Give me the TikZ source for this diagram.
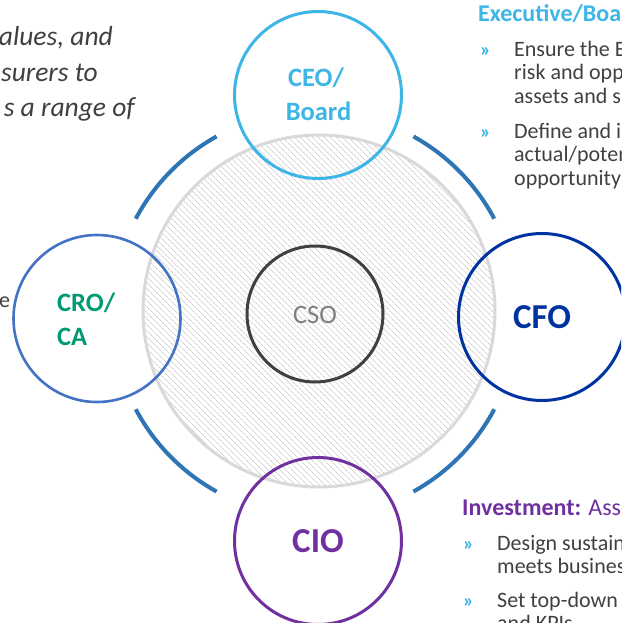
\documentclass[tikz,border=0pt]{standalone}
\usepackage{fontspec}
\setmainfont{Carlito}
\usetikzlibrary{patterns.meta}
\definecolor{ceoc}{HTML}{3DB5E6}
\definecolor{cfoc}{HTML}{0033A0}
\definecolor{croc}{HTML}{4472C4}
\definecolor{crotext}{HTML}{009A74}
\definecolor{cioc}{HTML}{7030A0}
\definecolor{arcc}{HTML}{2E75B6}
\definecolor{csoline}{HTML}{404040}
\definecolor{csotext}{HTML}{7F7F7F}
\definecolor{hatchedge}{HTML}{D9D9D9}
\definecolor{hatchc}{HTML}{CFCFCF}
\definecolor{bodyc}{HTML}{404040}
\begin{document}
\begin{tikzpicture}[x=1pt,y=-1pt,
  role/.style={circle, draw, line width=3pt, minimum size=167pt, inner sep=0pt},
  bigc/.style={circle, minimum size=352pt, inner sep=0pt, draw=hatchedge, line width=3pt,
    pattern={Lines[angle=-45,distance=4pt,line width=0.8pt]}, pattern color=hatchc},
  arcline/.style={draw=arcc, line width=4pt},
  lab/.style={anchor=base, inner sep=0pt, font=\bfseries\fontsize{26.5}{30}\selectfont},
  biglab/.style={anchor=base, inner sep=0pt, font=\bfseries\fontsize{35}{40}\selectfont},
  body/.style={anchor=base west, inner sep=0pt, text=bodyc, font=\fontsize{22}{26}\selectfont},
  bul/.style={anchor=base west, inner sep=0pt, text=ceoc, font=\bfseries\fontsize{20}{24}\selectfont},
  head/.style={anchor=base west, inner sep=0pt, font=\bfseries\fontsize{24}{28}\selectfont},
  quote/.style={anchor=base east, inner sep=0pt, text=bodyc, font=\itshape\fontsize{27.5}{32}\selectfont}]
\path[clip] (0,0) rectangle (621,623);
\fill[white] (0,0) rectangle (621,623);

% hatched area and arcs
\node[bigc] (area) at (319,311) {};
\coordinate (hub) at (315,314);
\draw[arcline] ([shift={(28:203)}]hub) arc[start angle=28, end angle=61, radius=203];
\draw[arcline] ([shift={(119:203)}]hub) arc[start angle=119, end angle=152, radius=203];
\draw[arcline] ([shift={(208:203)}]hub) arc[start angle=208, end angle=241, radius=203];
\draw[arcline] ([shift={(299:203)}]hub) arc[start angle=299, end angle=332, radius=203];

% role circles
\node[role, draw=ceoc] (ceo) at (318,95) {};
\node[role, draw=cfoc] (cfo) at (542,317) {};
\node[role, draw=croc, line width=2.6pt] (cro) at (97,318.5) {};
\node[role, draw=cioc] (cio) at (318,541) {};
\node[circle, draw=csoline, line width=3pt, minimum size=136pt, inner sep=0pt] (cso) at (315,314) {};

% labels
\node[lab, text=ceoc] (ceo1) at (316,87) {CEO/};
\node[lab, text=ceoc] (ceo2) at (318.5,121) {Board};
\node[lab, text=crotext, anchor=base west] (cro1) at (57,311.5) {CRO/};
\node[lab, text=crotext, anchor=base west] (cro2) at (57,345) {CA};
\node[biglab, text=cfoc] (cfot) at (542,328) {CFO};
\node[biglab, text=cioc] (ciot) at (318,552) {CIO};
\node[anchor=base, inner sep=0pt, text=csotext, font=\fontsize{26.5}{30}\selectfont] (csot) at (315,323) {CSO};

% top-left quote fragments (clipped paragraph)
\node[quote] (q1) at (113,46) {alues, and};
\node[quote] (q2) at (98,82) {surers to};
\node[quote] (q3) at (135,117) {s a range of};
\node[body] (le) at (-1,307) {e};

% top-right block
\node[head, text=ceoc] (h1) at (478,21.5) {Executive/Boa};
\node[bul] (b1) at (480,57) {»};
\node[body] (t11) at (514,57) {Ensure the E};
\node[body] (t12) at (514,80) {risk and opp};
\node[body] (t13) at (514,103) {assets and s};
\node[bul] (b2) at (480,138) {»};
\node[body] (t21) at (514,138) {Define and i};
\node[body] (t22) at (514,161.5) {actual/poten};
\node[body] (t23) at (514,185) {opportunity};

% bottom-right block
\node[head, text=cioc] (h2) at (462,515) {Investment: \mdseries Asse};
\node[bul] (b3) at (463,550) {»};
\node[body] (t31) at (497,550) {Design sustain};
\node[body] (t32) at (497,573) {meets busines};
\node[bul] (b4) at (463,607) {»};
\node[body] (t41) at (497,607) {Set top-down};
\node[body] (t42) at (497,630) {and KPIs};
\end{tikzpicture}
\end{document}
